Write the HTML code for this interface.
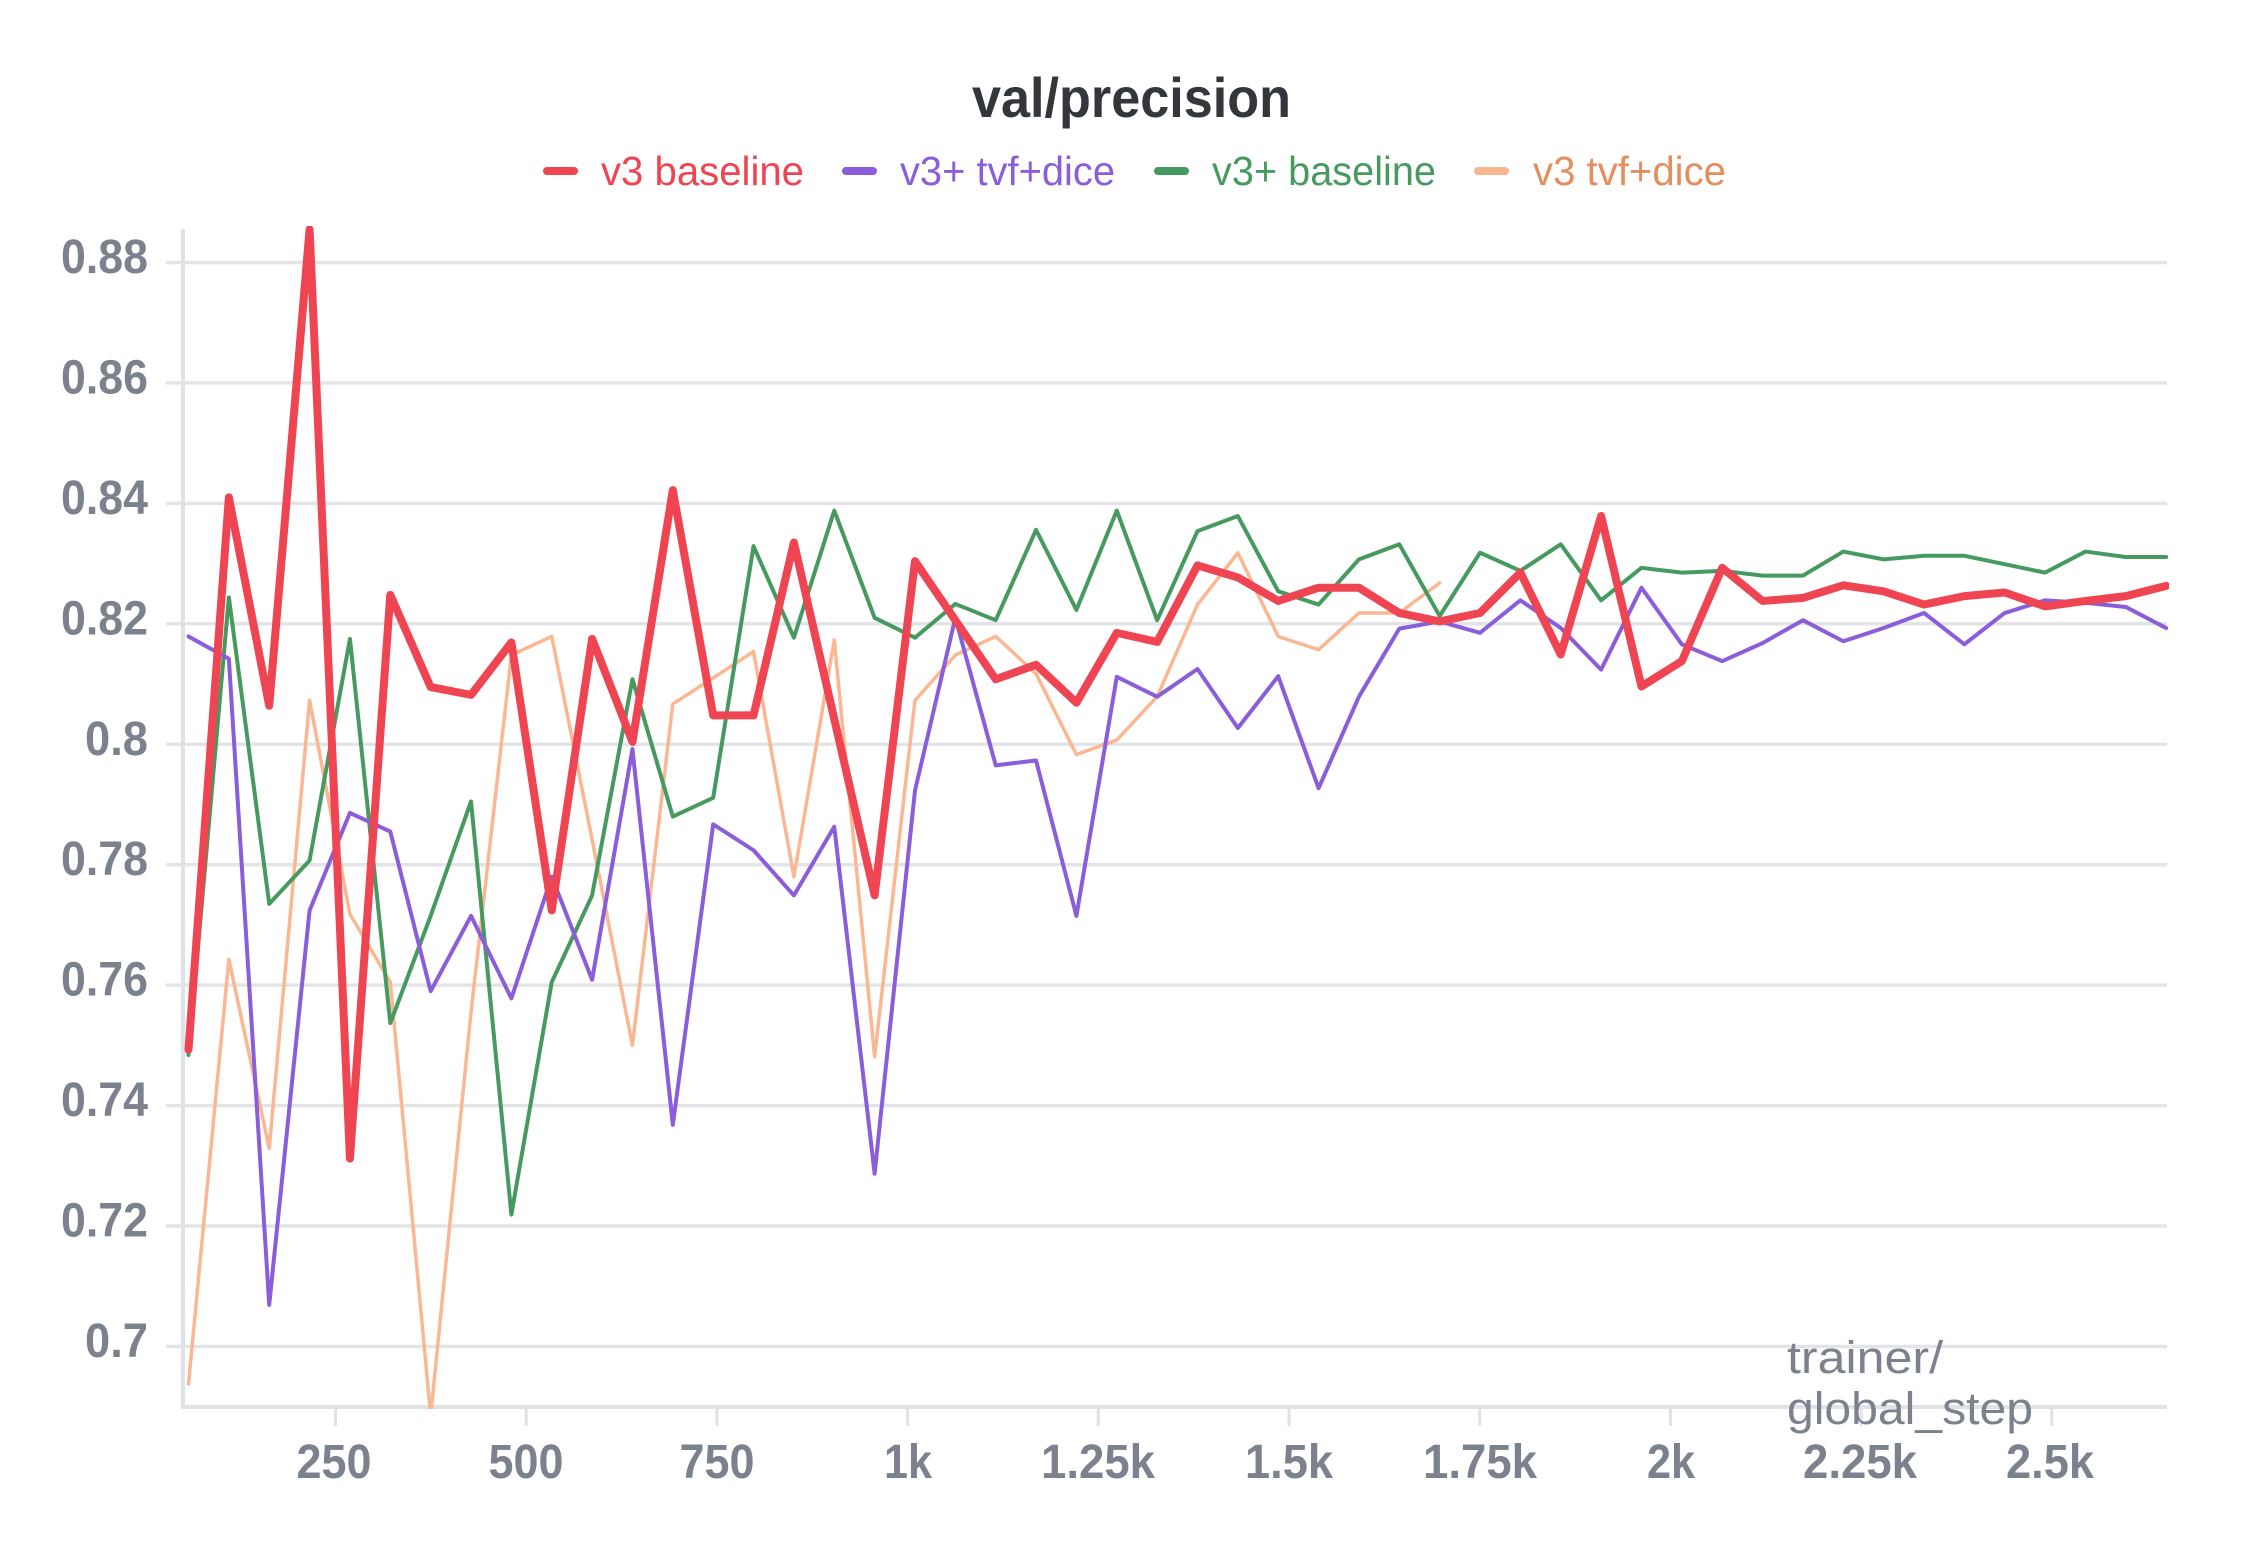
<!DOCTYPE html>
<html>
<head>
<meta charset="utf-8">
<style>
  html,body{margin:0;padding:0;background:#ffffff;}
  body{width:2263px;height:1547px;overflow:hidden;}
  svg{display:block;}
  text{font-family:"Liberation Sans", sans-serif;}
</style>
</head>
<body>
<svg width="2263" height="1547" viewBox="0 0 2263 1547" xmlns="http://www.w3.org/2000/svg">
  <rect x="0" y="0" width="2263" height="1547" fill="#ffffff"/>

  <!-- Title -->
  <text x="972" y="117" font-size="56" font-weight="bold" fill="#33363b" textLength="319" lengthAdjust="spacingAndGlyphs">val/precision</text>

  <!-- Legend -->
  <rect x="543" y="167" width="35" height="8" rx="4" fill="#ef4452"/>
  <text x="601" y="185" font-size="41" fill="#ef4452" textLength="203" lengthAdjust="spacingAndGlyphs">v3 baseline</text>
  <rect x="842" y="167" width="35" height="8" rx="4" fill="#8a5ddb"/>
  <text x="900" y="185" font-size="41" fill="#8a5ddb" textLength="215" lengthAdjust="spacingAndGlyphs">v3+ tvf+dice</text>
  <rect x="1154" y="167" width="35" height="8" rx="4" fill="#479a5f"/>
  <text x="1212" y="185" font-size="41" fill="#479a5f" textLength="224" lengthAdjust="spacingAndGlyphs">v3+ baseline</text>
  <rect x="1474" y="167" width="35" height="8" rx="4" fill="#f9b691"/>
  <text x="1533" y="185" font-size="41" fill="#e38e5e" textLength="193" lengthAdjust="spacingAndGlyphs">v3 tvf+dice</text>

  <!-- Grid lines -->
  <g stroke="#e3e4e7" stroke-width="3.5">
    <line x1="166" y1="262.5" x2="2167" y2="262.5"/>
    <line x1="166" y1="382.9" x2="2167" y2="382.9"/>
    <line x1="166" y1="503.4" x2="2167" y2="503.4"/>
    <line x1="166" y1="623.8" x2="2167" y2="623.8"/>
    <line x1="166" y1="744.3" x2="2167" y2="744.3"/>
    <line x1="166" y1="864.7" x2="2167" y2="864.7"/>
    <line x1="166" y1="985.1" x2="2167" y2="985.1"/>
    <line x1="166" y1="1105.6" x2="2167" y2="1105.6"/>
    <line x1="166" y1="1226" x2="2167" y2="1226"/>
    <line x1="166" y1="1346.5" x2="2167" y2="1346.5"/>
  </g>
  <!-- Axes -->
  <g stroke="#e1e2e5" stroke-width="4">
    <line x1="183" y1="229" x2="183" y2="1409"/>
    <line x1="181" y1="1407" x2="2167" y2="1407"/>
  </g>
  <!-- X ticks -->
  <g stroke="#e1e2e5" stroke-width="3">
    <line x1="335.5" y1="1407" x2="335.5" y2="1426"/>
    <line x1="526.2" y1="1407" x2="526.2" y2="1426"/>
    <line x1="716.9" y1="1407" x2="716.9" y2="1426"/>
    <line x1="907.6" y1="1407" x2="907.6" y2="1426"/>
    <line x1="1098.3" y1="1407" x2="1098.3" y2="1426"/>
    <line x1="1289" y1="1407" x2="1289" y2="1426"/>
    <line x1="1479.7" y1="1407" x2="1479.7" y2="1426"/>
    <line x1="1670.4" y1="1407" x2="1670.4" y2="1426"/>
    <line x1="1861.1" y1="1407" x2="1861.1" y2="1426"/>
    <line x1="2051.8" y1="1407" x2="2051.8" y2="1426"/>
  </g>

  <!-- Y tick labels -->
  <g font-size="48" font-weight="bold" fill="#7b828d">
    <text x="61" y="273" textLength="87" lengthAdjust="spacingAndGlyphs">0.88</text>
    <text x="61" y="393.4" textLength="87" lengthAdjust="spacingAndGlyphs">0.86</text>
    <text x="61" y="513.9" textLength="87" lengthAdjust="spacingAndGlyphs">0.84</text>
    <text x="61" y="634.3" textLength="87" lengthAdjust="spacingAndGlyphs">0.82</text>
    <text x="85" y="754.8" textLength="63" lengthAdjust="spacingAndGlyphs">0.8</text>
    <text x="61" y="875.2" textLength="87" lengthAdjust="spacingAndGlyphs">0.78</text>
    <text x="61" y="995.6" textLength="87" lengthAdjust="spacingAndGlyphs">0.76</text>
    <text x="61" y="1116.1" textLength="87" lengthAdjust="spacingAndGlyphs">0.74</text>
    <text x="61" y="1236.5" textLength="87" lengthAdjust="spacingAndGlyphs">0.72</text>
    <text x="85" y="1357" textLength="63" lengthAdjust="spacingAndGlyphs">0.7</text>
  </g>

  <!-- X tick labels -->
  <g font-size="48" font-weight="bold" fill="#7b828d" text-anchor="middle">
    <text x="334" y="1478" textLength="75" lengthAdjust="spacingAndGlyphs">250</text>
    <text x="526" y="1478" textLength="75" lengthAdjust="spacingAndGlyphs">500</text>
    <text x="717" y="1478" textLength="75" lengthAdjust="spacingAndGlyphs">750</text>
    <text x="908" y="1478" textLength="48" lengthAdjust="spacingAndGlyphs">1k</text>
    <text x="1098" y="1478" textLength="114" lengthAdjust="spacingAndGlyphs">1.25k</text>
    <text x="1289" y="1478" textLength="88" lengthAdjust="spacingAndGlyphs">1.5k</text>
    <text x="1480" y="1478" textLength="114" lengthAdjust="spacingAndGlyphs">1.75k</text>
    <text x="1671" y="1478" textLength="48" lengthAdjust="spacingAndGlyphs">2k</text>
    <text x="1860" y="1478" textLength="114" lengthAdjust="spacingAndGlyphs">2.25k</text>
    <text x="2050" y="1478" textLength="88" lengthAdjust="spacingAndGlyphs">2.5k</text>
  </g>

  <defs>
    <clipPath id="plot">
      <rect x="183" y="226" width="1986" height="1183"/>
    </clipPath>
  </defs>

  <!-- Series -->
  <g clip-path="url(#plot)">
    <g transform="translate(188.5 5561.86) scale(40.36 -6022)" fill="none" stroke-linejoin="round" stroke-linecap="round">
      <!-- v3 tvf+dice (orange) -->
      <polyline vector-effect="non-scaling-stroke" stroke="#fbb792" stroke-width="3.5"
        points="0,0.6938 1,0.7643 2,0.7329 3,0.8073 4,0.7718 5,0.7605 6,0.6885 7,0.7555 8,0.8148 9,0.8179 10,0.7842 11,0.7500 12,0.8067 13,0.8110 14,0.8154 15,0.7780 16,0.8173 17,0.7481 18,0.8073 19,0.8148 20,0.8179 21,0.8117 22,0.7983 23,0.8007 24,0.8079 25,0.8232 26,0.8318 27,0.8179 28,0.8157 29,0.8218 30,0.8218 31,0.8268"/>
      <!-- v3+ baseline (green) -->
      <polyline vector-effect="non-scaling-stroke" stroke="#479a5f" stroke-width="4"
        points="0,0.7484 1,0.8244 2,0.7735 3,0.7807 4,0.8175 5,0.7537 6,0.7715 7,0.7905 8,0.7219 9,0.7605 10,0.7749 11,0.8108 12,0.7880 13,0.7911 14,0.8329 15,0.8177 16,0.8388 17,0.8210 18,0.8177 19,0.8233 20,0.8206 21,0.8356 22,0.8223 23,0.8388 24,0.8206 25,0.8354 26,0.8379 27,0.8254 28,0.8232 29,0.8307 30,0.8332 31,0.8213 32,0.8318 33,0.8288 34,0.8332 35,0.8239 36,0.8293 37,0.8285 38,0.8288 39,0.8280 40,0.8280 41,0.8320 42,0.8307 43,0.8313 44,0.8313 45,0.8299 46,0.8285 47,0.8320 48,0.8311 49,0.8311"/>
      <!-- v3+ tvf+dice (purple) -->
      <polyline vector-effect="non-scaling-stroke" stroke="#8a5ddb" stroke-width="4"
        points="0,0.8179 1,0.8142 2,0.7069 3,0.7724 4,0.7886 5,0.7855 6,0.7590 7,0.7715 8,0.7578 9,0.7780 10,0.7609 11,0.7992 12,0.7368 13,0.7867 14,0.7824 15,0.7749 16,0.7863 17,0.7287 18,0.7923 19,0.8210 20,0.7965 21,0.7973 22,0.7715 23,0.8112 24,0.8079 25,0.8125 26,0.8027 27,0.8113 28,0.7927 29,0.8079 30,0.8192 31,0.8204 32,0.8185 33,0.8239 34,0.8193 35,0.8124 36,0.8260 37,0.8166 38,0.8138 39,0.8168 40,0.8206 41,0.8171 42,0.8193 43,0.8218 44,0.8166 45,0.8218 46,0.8239 47,0.8235 48,0.8228 49,0.8193"/>
      <!-- v3 baseline (red) -->
      <polyline vector-effect="non-scaling-stroke" stroke="#ef4452" stroke-width="8"
        points="0,0.7493 1,0.8410 2,0.8064 3,0.8855 4,0.7312 5,0.8248 6,0.8095 7,0.8082 8,0.8169 9,0.7724 10,0.8175 11,0.8004 12,0.8422 13,0.8048 14,0.8048 15,0.8335 16,0.8042 17,0.7749 18,0.8304 19,0.8206 20,0.8108 21,0.8132 22,0.8069 23,0.8185 24,0.8170 25,0.8297 26,0.8277 27,0.8238 28,0.8260 29,0.8260 30,0.8218 31,0.8204 32,0.8218 33,0.8285 34,0.8149 35,0.8379 36,0.8096 37,0.8138 38,0.8293 39,0.8238 40,0.8243 41,0.8264 42,0.8254 43,0.8232 44,0.8246 45,0.8252 46,0.8229 47,0.8238 48,0.8246 49,0.8263"/>
    </g>
  </g>

  <!-- X axis title -->
  <g font-size="45" fill="#7b828d">
    <text x="1787" y="1373" textLength="156" lengthAdjust="spacingAndGlyphs">trainer/</text>
    <text x="1787" y="1424" textLength="246" lengthAdjust="spacingAndGlyphs">global_step</text>
  </g>
</svg>
</body>
</html>
